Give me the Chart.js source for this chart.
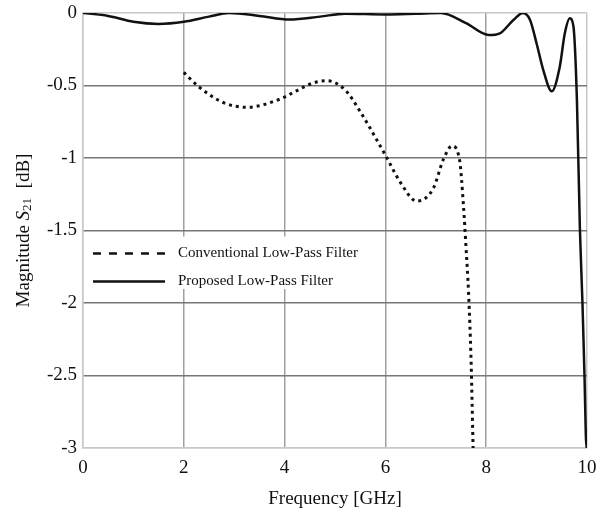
<!DOCTYPE html>
<html>
<head>
<meta charset="utf-8">
<script src="https://cdn.jsdelivr.net/npm/chart.js@4.4.0/dist/chart.umd.min.js"></script>
<style>
  html, body { margin: 0; padding: 0; background: #fff; }
</style>
</head>
<body>
<canvas id="s21Chart" width="600" height="515"></canvas>
<script>
// Data
const propFreq = [0, 0.5, 1.0, 1.5, 2.0, 2.5, 2.9, 3.5, 4.1, 4.7, 5.2, 6.0, 6.6, 7.1, 7.6, 8.05, 8.27, 8.54, 8.73, 8.87, 9.0, 9.13, 9.3, 9.46, 9.56, 9.66, 9.73, 9.8, 9.86, 9.91, 9.95, 9.99, 10.0];
const propMag  = [0, -0.02, -0.06, -0.075, -0.06, -0.025, 0, -0.02, -0.045, -0.025, -0.005, -0.01, -0.005, 0, -0.07, -0.152, -0.14, -0.048, 0, -0.048, -0.21, -0.39, -0.54, -0.37, -0.14, -0.037, -0.09, -0.6, -1.5, -2.0, -2.5, -3.0, -2.88];

const convFreq = [2.0, 2.3, 2.8, 3.25, 3.9, 4.3, 4.55, 4.83, 5.2, 5.5, 5.83, 6.03, 6.3, 6.62, 6.95, 7.15, 7.32, 7.47, 7.55, 7.6, 7.65, 7.7, 7.74];
const convMag  = [-0.41, -0.51, -0.62, -0.65, -0.595, -0.525, -0.485, -0.467, -0.53, -0.68, -0.876, -1.0, -1.17, -1.297, -1.21, -1.01, -0.917, -1.01, -1.335, -1.62, -1.93, -2.4, -3.0];

const xTicks = ['0', '2', '4', '6', '8', '10'];
const yTicks = ['0', '-0.5', '-1', '-1.5', '-2', '-2.5', '-3'];
const seriesNames = ['Conventional Low-Pass Filter', 'Proposed Low-Pass Filter'];

const serif = "'Liberation Serif', 'Times New Roman', serif";
const toPoints = (xs, ys) => xs.map((x, i) => ({ x: x, y: ys[i] }));

// white legend box inside the plot + y title with italic S and subscript
const paperDecor = {
    id: 'paperDecor',
    beforeDraw(chart) {
        const ctx = chart.ctx;
        ctx.save();
        ctx.fillStyle = '#fff';
        ctx.fillRect(0, 0, chart.width, chart.height);
        ctx.restore();
    },
    beforeDatasetsDraw(chart) {
        const ctx = chart.ctx;
        const a = chart.chartArea;
        const y = chart.scales.y;
        const top = y.getPixelForValue(-1.5) + 6;
        const bot = y.getPixelForValue(-2) - 14;
        ctx.save();
        ctx.fillStyle = '#fff';
        ctx.fillRect(a.left + 2, top, 293, bot - top);

        const x0 = a.left + 10, x1 = a.left + 82, tx = a.left + 95;
        const rows = [top + 17, top + 45];
        ctx.strokeStyle = '#111';
        ctx.lineWidth = 2.5;
        ctx.setLineDash([8, 8]);
        ctx.beginPath(); ctx.moveTo(x0, rows[0]); ctx.lineTo(x1, rows[0]); ctx.stroke();
        ctx.setLineDash([]);
        ctx.beginPath(); ctx.moveTo(x0, rows[1]); ctx.lineTo(x1, rows[1]); ctx.stroke();

        ctx.fillStyle = '#111';
        ctx.font = '15px ' + serif;
        ctx.textBaseline = 'middle';
        ctx.fillText(seriesNames[0], tx, rows[0]);
        ctx.fillText(seriesNames[1], tx, rows[1]);
        ctx.restore();
    },
    afterDraw(chart) {
        const ctx = chart.ctx;
        const a = chart.chartArea;
        const parts = [
            { t: 'Magnitude ', f: '19px ' + serif, dy: 0 },
            { t: 'S', f: 'italic 19px ' + serif, dy: 0 },
            { t: '21', f: '13px ' + serif, dy: 4 },
            { t: '  [dB]', f: '19px ' + serif, dy: 0 }
        ];
        ctx.save();
        let total = 0;
        parts.forEach(p => { ctx.font = p.f; p.w = ctx.measureText(p.t).width; total += p.w; });
        ctx.translate(24, (a.top + a.bottom) / 2);
        ctx.rotate(-Math.PI / 2);
        ctx.fillStyle = '#111';
        ctx.textBaseline = 'middle';
        let cx = -total / 2;
        parts.forEach(p => { ctx.font = p.f; ctx.fillText(p.t, cx, p.dy); cx += p.w; });
        ctx.restore();
    }
};

const edgeOr = (edges, inner) => (c) => edges.includes(c.tick.value) ? '#c8c8c8' : inner;

new Chart(document.getElementById('s21Chart').getContext('2d'), {
    type: 'line',
    data: {
        datasets: [
            {
                label: seriesNames[0],
                data: toPoints(convFreq, convMag),
                borderColor: '#111',
                borderWidth: 3,
                borderDash: [3, 4],
                cubicInterpolationMode: 'monotone',
                pointRadius: 0,
                fill: false
            },
            {
                label: seriesNames[1],
                data: toPoints(propFreq, propMag),
                borderColor: '#111',
                borderWidth: 2.5,
                cubicInterpolationMode: 'monotone',
                pointRadius: 0,
                fill: false
            }
        ]
    },
    options: {
        responsive: false,
        animation: false,
        layout: { padding: { left: 0, right: 13, top: 13, bottom: 0 } },
        plugins: {
            legend: { display: false },
            tooltip: { enabled: false }
        },
        scales: {
            x: {
                type: 'linear',
                min: 0, max: 10,
                afterFit: (s) => { s.height = 67; s.paddingLeft = 0; s.paddingRight = 0; },
                ticks: {
                    stepSize: 2,
                    padding: 9,
                    color: '#111',
                    font: { family: serif, size: 19 },
                    callback: (v) => xTicks[v / 2]
                },
                grid: { color: edgeOr([0, 10], '#a0a0a0'), lineWidth: 1.5, drawTicks: false },
                border: { color: '#c8c8c8', width: 1.5 },
                title: {
                    display: true,
                    text: 'Frequency [GHz]',
                    color: '#111',
                    font: { family: serif, size: 19 },
                    padding: { top: 0, bottom: 5 }
                }
            },
            y: {
                min: -3, max: 0,
                afterFit: (s) => { s.width = 83; s.paddingTop = 0; s.paddingBottom = 0; },
                ticks: {
                    stepSize: 0.5,
                    padding: 6,
                    color: '#111',
                    font: { family: serif, size: 19 },
                    callback: (v) => yTicks[Math.round(-v * 2)]
                },
                grid: { color: edgeOr([0, -3], '#777'), lineWidth: 1.5, drawTicks: false },
                border: { color: '#c8c8c8', width: 1.5 }
            }
        }
    },
    plugins: [paperDecor]
});
</script>
</body>
</html>
